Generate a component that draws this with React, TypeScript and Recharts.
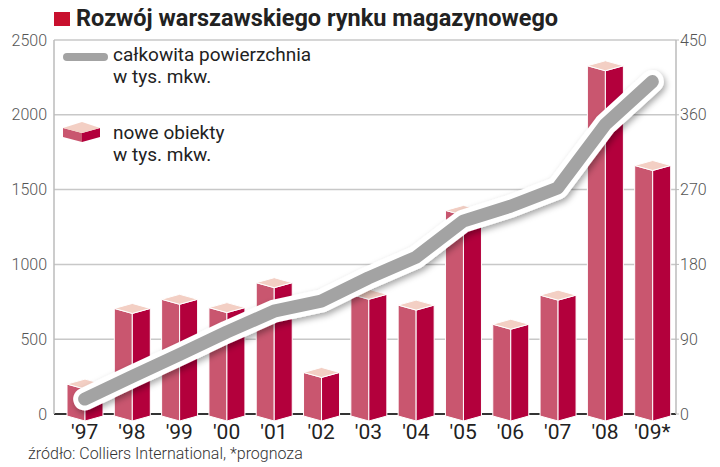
import React from "react";
import {
  ComposedChart,
  Bar,
  Line,
  XAxis,
  YAxis,
  CartesianGrid,
} from "recharts";

const years = ["'97", "'98", "'99", "'00", "'01", "'02", "'03", "'04", "'05", "'06", "'07", "'08", "'09*"];
// nowe obiekty, tys. mkw. (prawa oś)
const newSpace = [36, 127, 138, 128, 158, 50, 144, 131, 245, 108, 143, 419, 299];
// całkowita powierzchnia, tys. mkw. (lewa oś)
const totalSpace = [100, 250, 397, 547, 687, 755, 910, 1047, 1289, 1389, 1511, 1933, 2222];
const leftTicks = [0, 500, 1000, 1500, 2000, 2500];
const rightTicks = [0, 90, 180, 270, 360, 450];

const data = years.map((year, i) => ({
  year,
  nowe: newSpace[i],
  calk: totalSpace[i],
}));

const FONT = "Roboto, 'Noto Sans', sans-serif";
const LEFT_FACE = "#c9566f";
const RIGHT_FACE = "#b3003c";
const TOP_FACE = "#f3cfc4";

// slupek 3D: dwie sciany boczne + romb na gorze
function Box3D(props: any) {
  const { x, y, width, height } = props;
  if (width == null || height == null) return null;
  const d = 5;
  const cx = x + width / 2;
  const base = y + height + 2;
  return (
    <g stroke="#fff" strokeWidth={1} strokeLinejoin="round">
      <path d={`M${x},${y} L${cx},${y + d} L${cx},${base + d} L${x},${base} Z`} fill={LEFT_FACE} />
      <path d={`M${cx},${y + d} L${x + width},${y} L${x + width},${base} L${cx},${base + d} Z`} fill={RIGHT_FACE} />
      <path d={`M${x},${y} L${cx},${y - d} L${x + width},${y} L${cx},${y + d} Z`} fill={TOP_FACE} />
    </g>
  );
}

function GridLine(props: any) {
  const { x1, x2, y1, y2 } = props;
  const isBase = y1 > 400;
  return (
    <line
      x1={x1}
      x2={x2}
      y1={y1}
      y2={y2}
      stroke={isBase ? "#333" : "#c8c8c8"}
      strokeWidth={isBase ? 2 : 1.5}
    />
  );
}

export default function App() {
  return (
    <div style={{ position: "absolute", left: 0, top: 0, width: 720, height: 467, background: "#fff", fontFamily: FONT }}>
      <svg width={0} height={0} style={{ position: "absolute" }}>
        <defs>
          <filter id="lineShadow" x="-10%" y="-10%" width="120%" height="130%">
            <feDropShadow dx={2} dy={3} stdDeviation={3} floodColor="#000" floodOpacity={0.35} />
          </filter>
        </defs>
      </svg>

      <ComposedChart
        width={720}
        height={467}
        data={data}
        margin={{ top: 40, right: 0, bottom: 23, left: 0 }}
      >
        <CartesianGrid yAxisId="left" vertical={false} horizontal={(p: any) => <GridLine key={p.key} {...p} />} />
        <XAxis
          dataKey="year"
          interval={0}
          padding={{ left: 7, right: 0 }}
          tickLine={false}
          axisLine={false}
          height={30}
          tickMargin={4}
          tick={{ fontSize: 21, fill: "#222", fontFamily: FONT }}
        />
        <YAxis
          yAxisId="left"
          orientation="left"
          width={54}
          domain={[0, 2500]}
          ticks={leftTicks}
          tickLine={false}
          tickSize={0}
          tickMargin={7}
          axisLine={{ stroke: "#bbb", strokeWidth: 1.5 }}
          tick={{ fontSize: 16, fill: "#555", fontFamily: FONT, fontWeight: 300 }}
        />
        <YAxis
          yAxisId="right"
          orientation="right"
          width={44}
          domain={[0, 450]}
          ticks={rightTicks}
          tickLine={{ stroke: "#bbb" }}
          tickSize={3}
          tickMargin={1}
          axisLine={{ stroke: "#bbb", strokeWidth: 1.5 }}
          tick={{ fontSize: 16, fill: "#555", fontFamily: FONT, fontWeight: 300 }}
        />
        <Bar yAxisId="right" dataKey="nowe" barSize={36} shape={<Box3D />} isAnimationActive={false} />
        <Line
          yAxisId="left"
          dataKey="calk"
          type="linear"
          stroke="#fff"
          strokeWidth={23}
          strokeLinecap="round"
          strokeLinejoin="round"
          dot={false}
          activeDot={false}
          filter="url(#lineShadow)"
          isAnimationActive={false}
        />
        <Line
          yAxisId="left"
          dataKey="calk"
          type="linear"
          stroke="#a3a3a3"
          strokeWidth={13}
          strokeLinecap="round"
          strokeLinejoin="round"
          dot={false}
          activeDot={false}
          isAnimationActive={false}
        />
      </ComposedChart>

      {/* tytul */}
      <div style={{ position: "absolute", left: 54, top: 12, width: 16, height: 14, background: "#c8102e" }} />
      <div style={{ position: "absolute", left: 76, top: 2, fontSize: 23.5, fontWeight: 700, color: "#222", whiteSpace: "nowrap", lineHeight: "32px" }}>
        Rozwój warszawskiego rynku magazynowego
      </div>

      {/* legenda */}
      <div style={{ position: "absolute", left: 63, top: 53, width: 45, height: 8, borderRadius: 4, background: "#a3a3a3" }} />
      <div style={{ position: "absolute", left: 113, top: 44, fontSize: 19, color: "#222", lineHeight: "22px", whiteSpace: "nowrap" }}>
        całkowita powierzchnia
        <br />w tys. mkw.
      </div>
      <svg style={{ position: "absolute", left: 62, top: 120 }} width={40} height={25}>
        <path d="M1,8 L20,13 L20,22 L1,17 Z" fill={LEFT_FACE} />
        <path d="M20,13 L38,8 L38,17 L20,22 Z" fill={RIGHT_FACE} />
        <path d="M1,8 L20,2 L38,8 L20,13 Z" fill={TOP_FACE} />
      </svg>
      <div style={{ position: "absolute", left: 113, top: 122, fontSize: 19, color: "#222", lineHeight: "22px", whiteSpace: "nowrap" }}>
        nowe obiekty
        <br />w tys. mkw.
      </div>

      {/* zrodlo */}
      <div style={{ position: "absolute", left: 28, top: 446, fontSize: 16, lineHeight: "16px", fontWeight: 300, color: "#333", whiteSpace: "nowrap" }}>
        źródło: Colliers International, *prognoza
      </div>
    </div>
  );
}
